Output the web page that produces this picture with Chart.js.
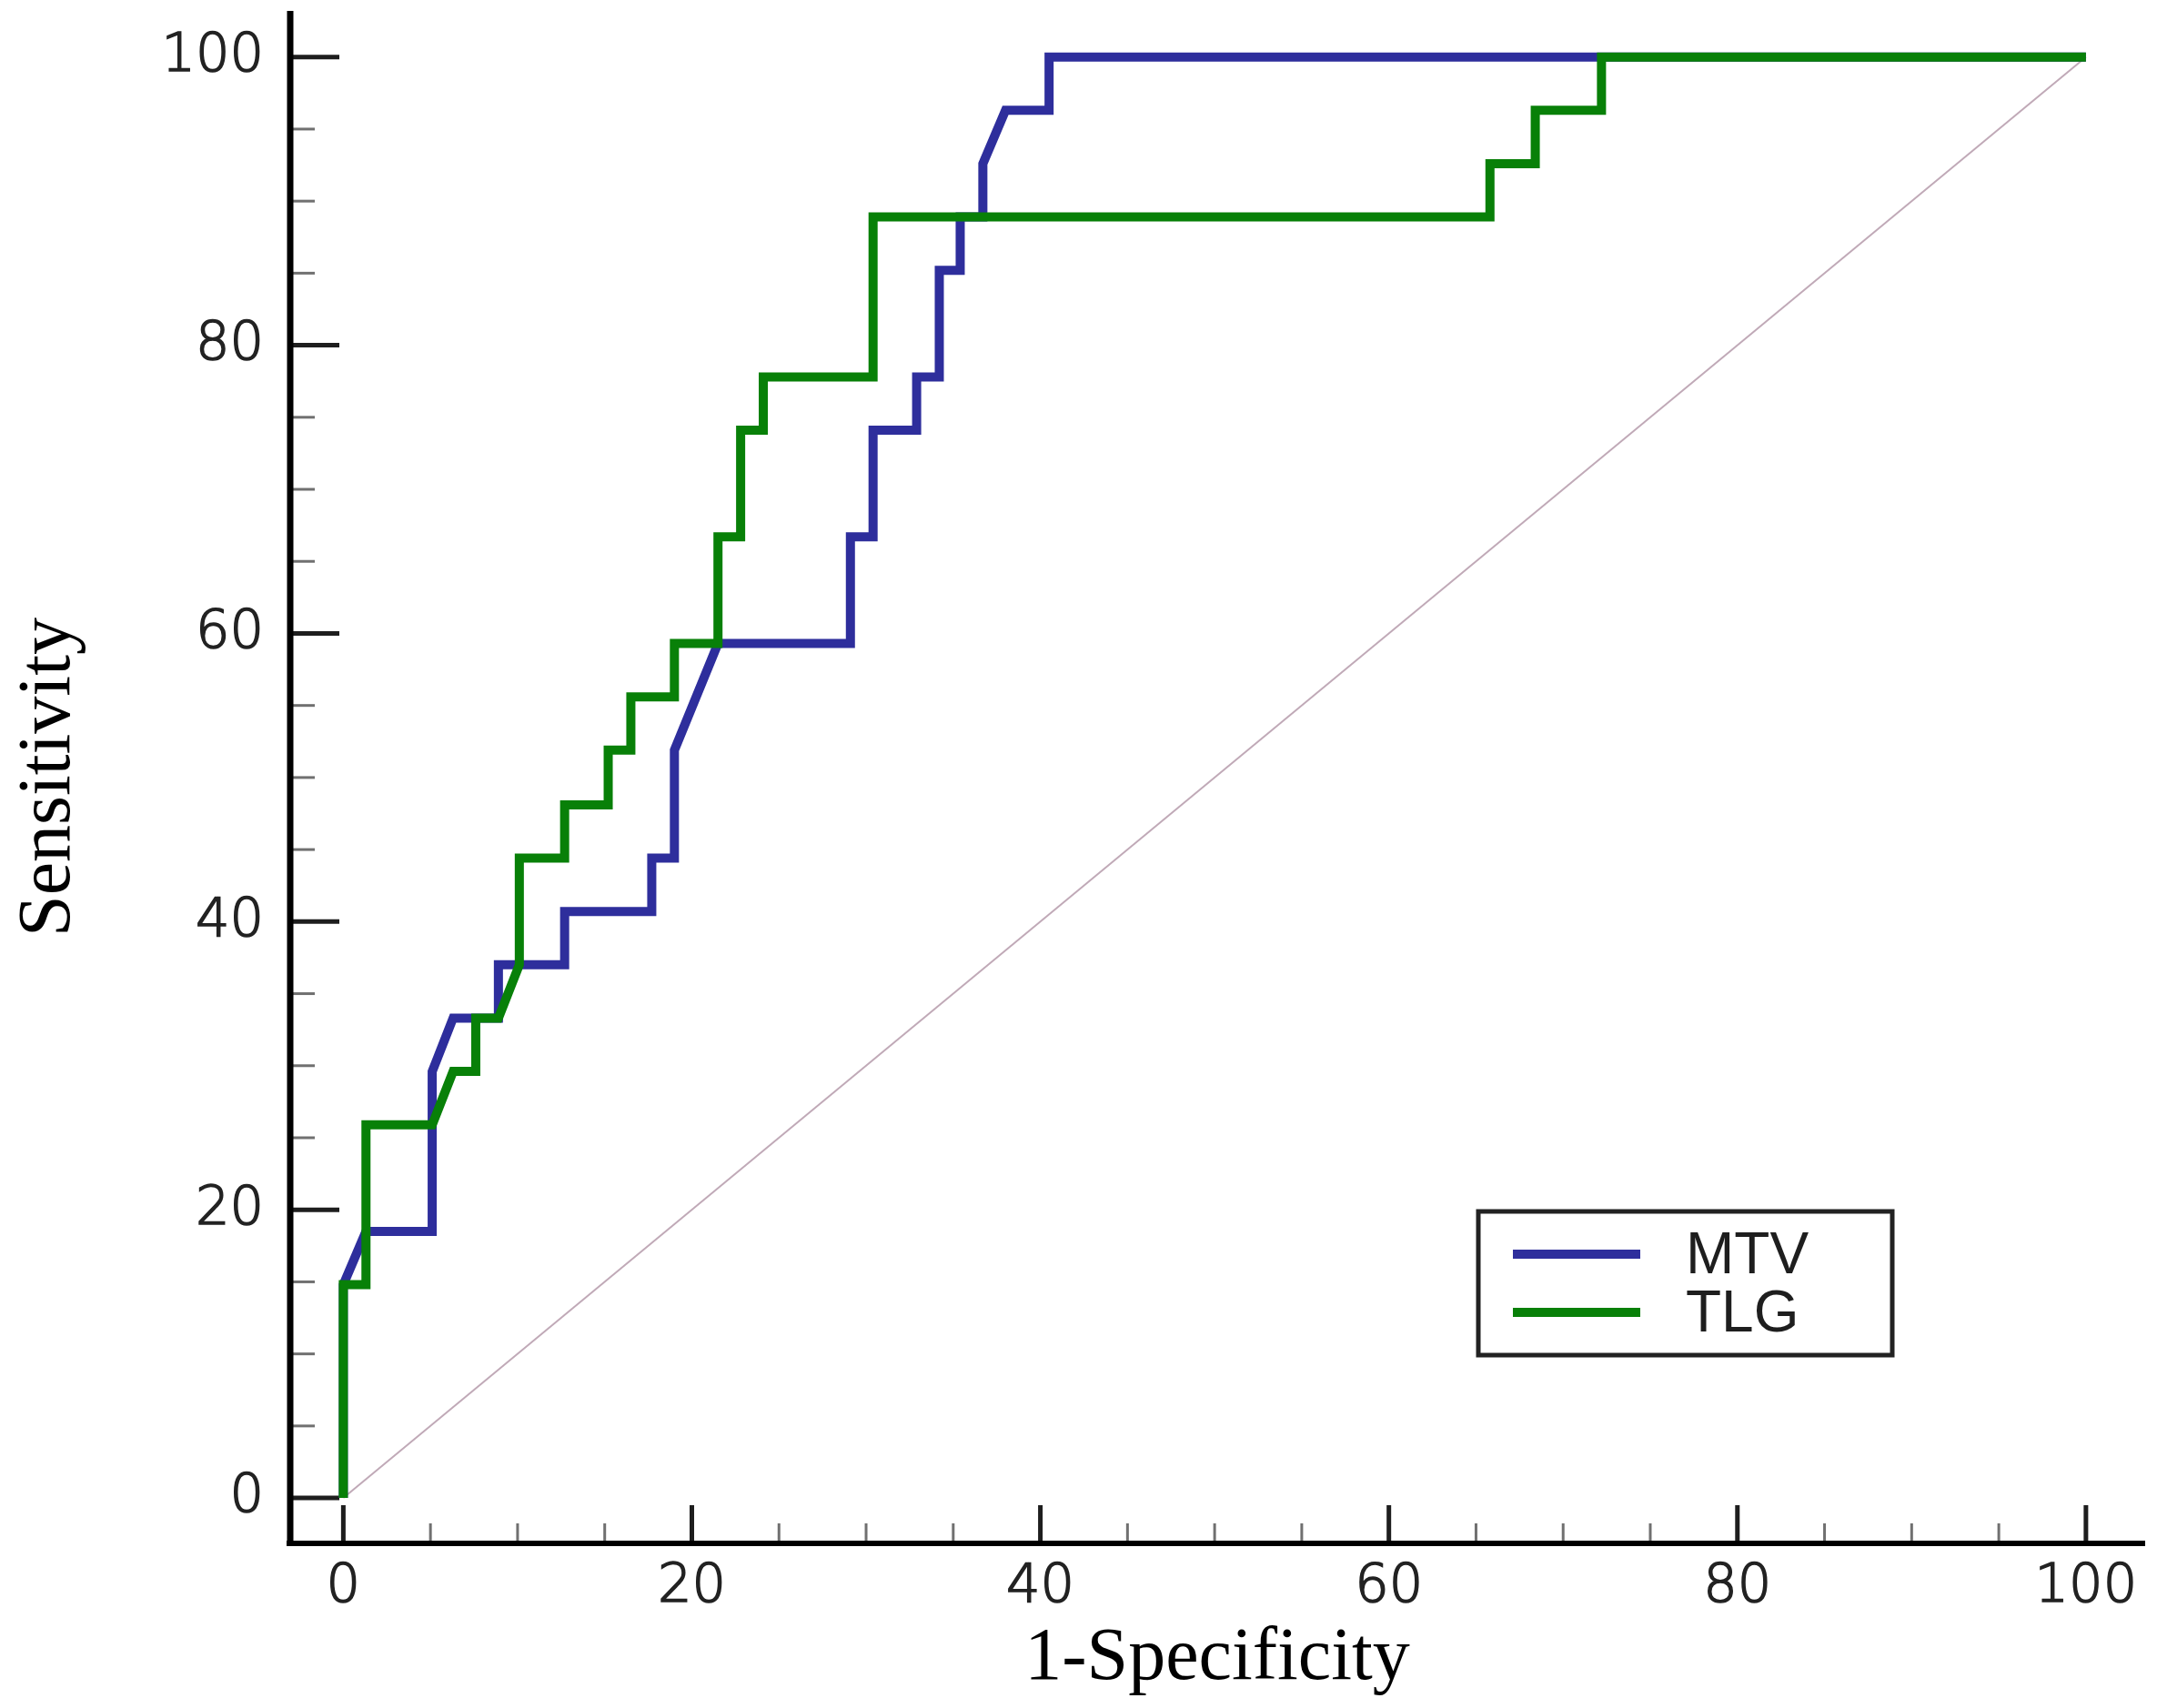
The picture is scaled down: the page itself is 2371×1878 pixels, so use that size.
<!DOCTYPE html>
<html>
<head>
<meta charset="utf-8">
<title>ROC MTV / TLG</title>
<script src="https://cdn.jsdelivr.net/npm/chart.js@4.4.1/dist/chart.umd.min.js"></script>
<style>
  html, body { margin: 0; padding: 0; background: #fff; }
  canvas { display: block; }
</style>
</head>
<body>
<canvas id="rocChart" width="2371" height="1878" style="width:2371px;height:1878px"></canvas>
<script>
// Curvas ROC (1-Especificidad, Sensibilidad en %)
const mtvFpr = [0, 0, 1.3, 5.1, 5.1, 6.3, 8.9, 8.9, 12.7, 12.7, 17.7, 17.7, 19.0, 19.0, 21.5, 29.1, 29.1, 30.4, 30.4, 32.9, 32.9, 34.2, 34.2, 35.4, 35.4, 36.7, 36.7, 38.0, 40.5, 40.5, 100];
const mtvTpr = [0, 14.8, 18.5, 18.5, 29.6, 33.3, 33.3, 37.0, 37.0, 40.7, 40.7, 44.4, 44.4, 51.9, 59.3, 59.3, 66.7, 66.7, 74.1, 74.1, 77.8, 77.8, 85.2, 85.2, 88.9, 88.9, 92.6, 96.3, 96.3, 100, 100];

const tlgFpr = [0, 0, 1.3, 1.3, 5.1, 6.3, 7.6, 7.6, 8.9, 10.1, 10.1, 12.7, 12.7, 15.2, 15.2, 16.5, 16.5, 19.0, 19.0, 21.5, 21.5, 22.8, 22.8, 24.1, 24.1, 30.4, 30.4, 65.8, 65.8, 68.4, 68.4, 72.2, 72.2, 100];
const tlgTpr = [0, 14.8, 14.8, 25.9, 25.9, 29.6, 29.6, 33.3, 33.3, 37.0, 44.4, 44.4, 48.1, 48.1, 51.9, 51.9, 55.6, 55.6, 59.3, 59.3, 66.7, 66.7, 74.1, 74.1, 77.8, 77.8, 88.9, 88.9, 92.6, 92.6, 96.3, 96.3, 100, 100];

// Línea de referencia (azar)
const chanceX = [0, 100];
const chanceY = [0, 100];

// Marcas de los ejes
const xTicks = [0, 20, 40, 60, 80, 100];
const yTicks = [0, 20, 40, 60, 80, 100];
const minorStep = 5;

const legendOrder = ['MTV', 'TLG'];

function toPoints(xs, ys) {
    return xs.map((x, i) => ({ x: x, y: ys[i] }));
}

// Ejes dibujados a mano: línea, marcas mayores y menores hacia dentro
const axesPlugin = {
    id: 'rocAxes',
    beforeDatasetsDraw(chart) {
        const ctx = chart.ctx;
        const xs = chart.scales.x;
        const ys = chart.scales.y;
        const area = chart.chartArea;
        ctx.save();
        ctx.lineCap = 'butt';

        // marcas eje X
        for (let v = 0; v <= 100; v += minorStep) {
            const px = xs.getPixelForValue(v);
            const major = xTicks.includes(v);
            ctx.beginPath();
            ctx.strokeStyle = major ? '#1e1e1e' : '#707070';
            ctx.lineWidth = major ? 5 : 3;
            ctx.moveTo(px, area.bottom);
            ctx.lineTo(px, area.bottom - (major ? 42 : 22));
            ctx.stroke();
        }
        // marcas eje Y
        for (let v = 0; v <= 100; v += minorStep) {
            const py = ys.getPixelForValue(v);
            const major = yTicks.includes(v);
            ctx.beginPath();
            ctx.strokeStyle = major ? '#1e1e1e' : '#707070';
            ctx.lineWidth = major ? 5 : 3;
            ctx.moveTo(area.left, py);
            ctx.lineTo(area.left + (major ? 55 : 28), py);
            ctx.stroke();
        }

        // líneas de los ejes
        ctx.strokeStyle = '#000';
        ctx.lineWidth = 7;
        ctx.beginPath();
        ctx.moveTo(area.left + 1, area.top);
        ctx.lineTo(area.left + 1, area.bottom + 3);
        ctx.stroke();
        ctx.lineWidth = 6;
        ctx.beginPath();
        ctx.moveTo(area.left - 3, area.bottom);
        ctx.lineTo(area.right, area.bottom);
        ctx.stroke();
        ctx.restore();
    }
};

// Leyenda con recuadro dentro del área del gráfico
const boxLegendPlugin = {
    id: 'boxLegend',
    afterDatasetsDraw(chart) {
        const ctx = chart.ctx;
        const box = { left: 1625, top: 1332, right: 2080, bottom: 1490 };
        const rows = [1379, 1443];
        ctx.save();
        ctx.fillStyle = '#fff';
        ctx.fillRect(box.left, box.top, box.right - box.left, box.bottom - box.top);
        ctx.strokeStyle = '#222';
        ctx.lineWidth = 5;
        ctx.strokeRect(box.left, box.top, box.right - box.left, box.bottom - box.top);

        ctx.font = '64px "Liberation Sans", Arial, sans-serif';
        ctx.textBaseline = 'alphabetic';
        ctx.textAlign = 'left';
        legendOrder.forEach((name, i) => {
            const ds = chart.data.datasets.find(d => d.label === name);
            if (!ds) return;
            ctx.beginPath();
            ctx.strokeStyle = ds.borderColor;
            ctx.lineWidth = 10;
            ctx.moveTo(1663, rows[i]);
            ctx.lineTo(1803, rows[i]);
            ctx.stroke();
            ctx.fillStyle = '#1e1e1e';
            ctx.fillText(name, 1853, rows[i] + 21);
        });
        ctx.restore();
    }
};

const tickFont = { family: '"DejaVu Sans", sans-serif', size: 59, weight: 200 };
const titleFont = { family: '"Liberation Serif", "Times New Roman", serif', size: 82 };

new Chart(document.getElementById('rocChart'), {
    type: 'scatter',
    data: {
        datasets: [
            {
                label: 'TLG',
                data: toPoints(tlgFpr, tlgTpr),
                borderColor: 'rgb(8, 128, 8)',
                borderWidth: 10,
                showLine: true,
                pointRadius: 0,
                tension: 0,
                borderJoinStyle: 'miter',
                order: 1
            },
            {
                label: 'MTV',
                data: toPoints(mtvFpr, mtvTpr),
                borderColor: 'rgb(46, 46, 156)',
                borderWidth: 10,
                showLine: true,
                pointRadius: 0,
                tension: 0,
                borderJoinStyle: 'miter',
                order: 2
            },
            {
                label: 'chance',
                data: toPoints(chanceX, chanceY),
                borderColor: 'rgba(185, 160, 175, 0.9)',
                borderWidth: 2,
                showLine: true,
                pointRadius: 0,
                order: 3
            }
        ]
    },
    options: {
        responsive: false,
        devicePixelRatio: 1,
        animation: false,
        layout: { padding: { top: 12, right: 13, left: 0, bottom: 0 } },
        plugins: {
            legend: { display: false },
            tooltip: { enabled: false }
        },
        scales: {
            x: {
                type: 'linear',
                min: -3.1,
                max: 103.4,
                grid: { display: false, drawTicks: false },
                border: { display: false },
                afterBuildTicks: axis => { axis.ticks = xTicks.map(v => ({ value: v })); },
                afterFit: axis => {
                    axis.height = 181;
                    axis.paddingLeft = 0;
                    axis.paddingRight = 0;
                },
                ticks: {
                    font: tickFont,
                    color: '#222',
                    textStrokeColor: '#222',
                    textStrokeWidth: 1.6,
                    padding: 13,
                    maxRotation: 0,
                    autoSkip: false
                },
                title: {
                    display: true,
                    text: '1-Specificity',
                    font: titleFont,
                    color: '#000',
                    padding: { top: 0, bottom: 4 }
                }
            },
            y: {
                type: 'linear',
                min: -3.15,
                max: 103.2,
                grid: { display: false, drawTicks: false },
                border: { display: false },
                afterBuildTicks: axis => { axis.ticks = yTicks.map(v => ({ value: v })); },
                afterFit: axis => {
                    axis.width = 318;
                    axis.paddingTop = 0;
                    axis.paddingBottom = 0;
                },
                ticks: {
                    font: tickFont,
                    color: '#222',
                    textStrokeColor: '#222',
                    textStrokeWidth: 1.6,
                    padding: 28,
                    autoSkip: false
                },
                title: {
                    display: true,
                    text: 'Sensitivity',
                    font: titleFont,
                    color: '#000',
                    padding: { top: 5, bottom: 0 }
                }
            }
        }
    },
    plugins: [axesPlugin, boxLegendPlugin]
});
</script>
</body>
</html>
